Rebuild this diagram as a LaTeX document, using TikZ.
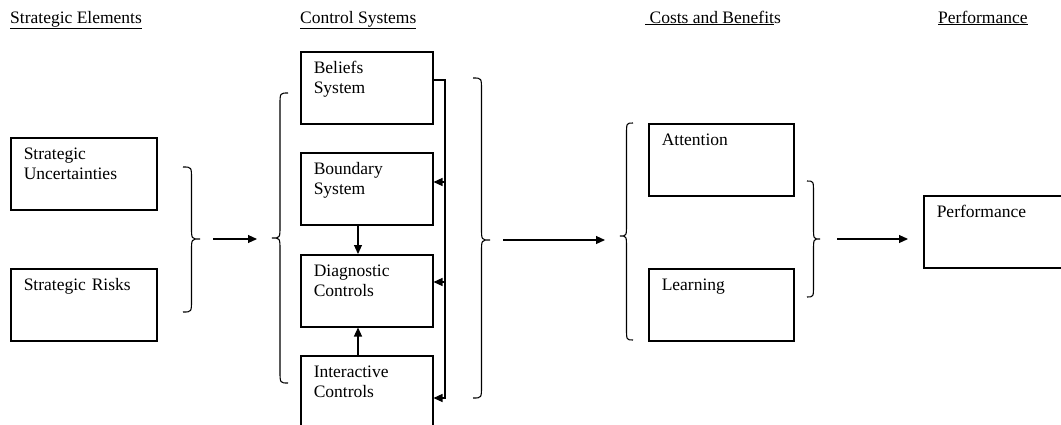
\documentclass[tikz,border=0pt]{standalone}
\usepackage{fontspec}
\setmainfont{Liberation Serif}
\usetikzlibrary{arrows.meta}
\newcommand\mybrace[6][]{% x0 (ends), x1 (tip), ytop, ybot, ytip
  \draw[brc,#1] (#2,#4) .. controls ({(#2+#3)/2},#4) .. ({(#2+#3)/2},{#4+12})
    -- ({(#2+#3)/2},{#6-12}) .. controls ({(#2+#3)/2},#6) .. (#3,#6)
    .. controls ({(#2+#3)/2},#6) .. ({(#2+#3)/2},{#6+12})
    -- ({(#2+#3)/2},{#5-12}) .. controls ({(#2+#3)/2},#5) .. (#2,#5);}
\begin{document}
\begin{tikzpicture}[x=1pt,y=-1pt,
  txt/.style={font=\fontsize{17.5}{20}\selectfont},
  box/.style={txt, draw, line width=1.5pt, anchor=north west, inner xsep=13pt, inner ysep=0pt,
    text height=22pt, text depth=50pt, align=left},
  cbox/.style={box, text width=106pt},
  sbox/.style={box, text width=120pt},
  head/.style={txt, anchor=base west, inner sep=0pt},
  ln/.style={line width=1.1pt},
  arr/.style={line width=1.1pt, -{Triangle[length=9pt,width=8pt]}},
  brc/.style={line width=1.1pt}]
\useasboundingbox (0,0) rectangle (1061,424);
% headings
\node[head] (h1) at (10,23) {\underline{Strategic Elements}};
\node[head] (h2) at (300,23) {\underline{Control Systems}};
\node[head] (h3) at (645,23) {\underline{\ Costs and Benefit}s};
\node[head] (h4) at (938,23) {\underline{Performance}};
% boxes
\node[sbox] (su) at (10,137) {Strategic\\Uncertainties};
\node[sbox] (sr) at (10,268) {Strategic Risks};
\node[cbox] (bel) at (300,51) {Beliefs\\System};
\node[cbox] (bnd) at (300,152) {Boundary\\System};
\node[cbox] (dia) at (300,254) {Diagnostic\\Controls};
\node[cbox] (int) at (300,355) {Interactive\\Controls};
\node[box, text width=119pt] (att) at (648,123) {Attention};
\node[box, text width=119pt] (lea) at (648,268) {Learning};
\node[box, text width=119pt] (per) at (923,195) {Performance};
% braces
\mybrace{183}{200}{167}{312}{239}
\mybrace{288}{272}{93}{383}{238}
\mybrace{473}{490}{78}{398}{240}
\mybrace{633}{620}{123}{340}{236}
\mybrace{807}{820}{181}{297}{239}
% arrows between groups
\coordinate (a1s) at (213,239); \coordinate (a1e) at (257,239);
\coordinate (a2s) at (503,240); \coordinate (a2e) at (605,240);
\coordinate (a3s) at (837,239); \coordinate (a3e) at (908,239);
\draw[arr] (a1s) -- (a1e);
\draw[arr] (a2s) -- (a2e);
\draw[arr] (a3s) -- (a3e);
% feedback loop
\coordinate (fb) at (445,80);
\draw[arr] (bel.east|-fb) -- (fb) |- (int.east|-0,398);
\draw[arr] (fb|-0,182) -- (bnd.east|-0,182);
\draw[arr] (fb|-0,282) -- (dia.east|-0,282);
% vertical arrows
\draw[arr] (bnd.south-|358,0) -- (dia.north-|358,0);
\draw[arr] (int.north-|358,0) -- (dia.south-|358,0);
\end{tikzpicture}
\end{document}
